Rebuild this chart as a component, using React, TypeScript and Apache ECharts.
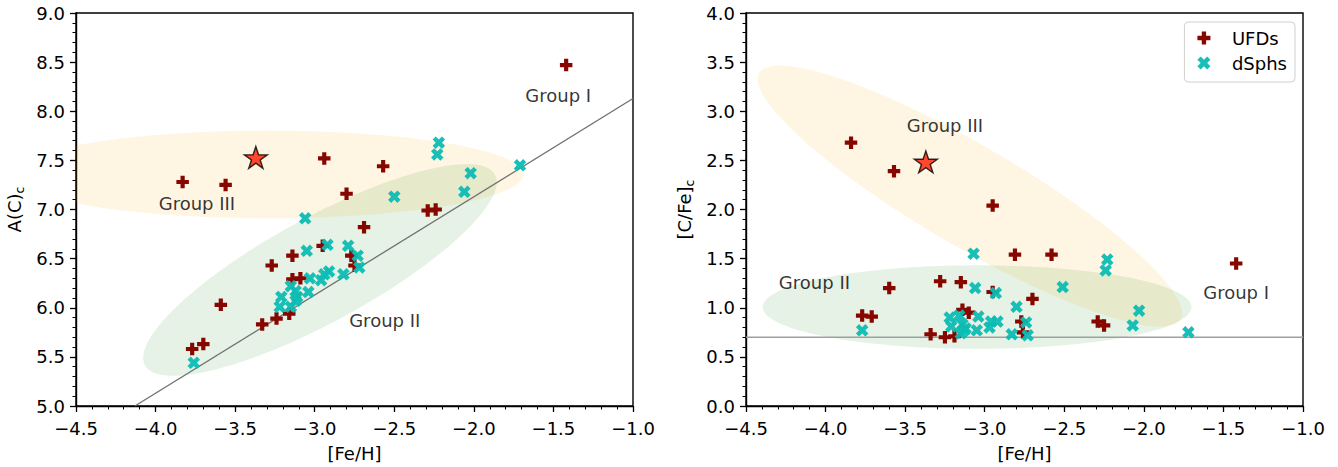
import React, { useEffect, useRef } from "react";
import * as echarts from "echarts";

// ---------- Data ----------
// Left panel: A(C)_c vs [Fe/H]
const ufdFeHLeft = [-3.83, -3.56, -2.94, -2.80, -2.57, -2.29, -2.24, -2.69, -2.95, -2.77, -3.14, -3.27, -2.75, -3.14, -3.09, -3.59, -3.16, -3.24, -3.33, -3.77, -3.70, -1.42];
const ufdAC = [7.28, 7.25, 7.52, 7.16, 7.44, 6.99, 7.00, 6.82, 6.63, 6.53, 6.53, 6.43, 6.43, 6.29, 6.30, 6.03, 5.94, 5.89, 5.83, 5.58, 5.63, 8.47];
const dsphFeHLeft = [-2.22, -2.23, -1.71, -2.02, -2.06, -2.50, -3.06, -3.05, -2.92, -2.79, -3.76, -2.73, -2.72, -2.82, -2.91, -2.94, -2.96, -3.03, -3.04, -3.12, -3.15, -3.21, -3.11, -3.22, -3.15, -3.12];
const dsphAC = [7.68, 7.56, 7.45, 7.37, 7.18, 7.13, 6.91, 6.58, 6.64, 6.63, 5.44, 6.53, 6.41, 6.34, 6.37, 6.34, 6.28, 6.30, 6.16, 6.17, 6.22, 6.11, 6.11, 6.01, 6.01, 6.07];

// Right panel: [C/Fe]_c vs [Fe/H]
const ufdFeHRight = [-3.84, -3.57, -2.95, -2.81, -2.58, -2.29, -2.25, -2.70, -2.95, -2.77, -3.15, -3.28, -2.76, -3.14, -3.10, -3.60, -3.19, -3.25, -3.34, -3.77, -3.71, -1.42];
const ufdCFe = [2.68, 2.39, 2.04, 1.54, 1.54, 0.86, 0.82, 1.09, 1.16, 0.86, 1.26, 1.27, 0.75, 0.98, 0.95, 1.20, 0.71, 0.70, 0.73, 0.92, 0.91, 1.45];
const dsphFeHRight = [-2.23, -2.24, -1.72, -2.03, -2.07, -2.51, -3.07, -3.06, -2.93, -2.80, -3.77, -2.74, -2.73, -2.83, -2.92, -2.96, -2.97, -3.04, -3.05, -3.14, -3.16, -3.22, -3.12, -3.21, -3.15, -3.13];
const dsphCFe = [1.49, 1.38, 0.75, 0.97, 0.82, 1.21, 1.55, 1.20, 1.15, 1.01, 0.77, 0.85, 0.72, 0.73, 0.86, 0.86, 0.80, 0.91, 0.77, 0.83, 0.92, 0.90, 0.79, 0.81, 0.74, 0.77];

const starFeH = -3.37;
const starAC = 7.52;
const starCFe = 2.475;

// Reference lines ([C/Fe] = 0.7)
const lineLeftFeH = [-4.13, -1.0];
const lineLeftAC = [5.0, 8.13];
const lineRightFeH = [-4.5, -1.0];
const lineRightCFe = [0.7, 0.7];

// Group annotations
const groupNames = ["Group I", "Group II", "Group III"];
const groupLeftFeH = [-1.47, -2.56, -3.74];
const groupLeftAC = [8.16, 5.87, 7.06];
const groupRightFeH = [-1.42, -4.07, -3.25];
const groupRightCFe = [1.16, 1.26, 2.855];

// Group ellipses (data units): centre, major vector, minor vector
const ORANGE = "rgba(255,165,0,0.11)";
const GREEN = "rgba(0,128,0,0.10)";
const ellipsesLeft = [
  { cx: -2.967, cy: 6.385, ux: 1.099, uy: 0.972, vx: 0.161, vy: -0.465, fill: GREEN },
  { cx: -3.294, cy: 7.357, ux: 1.608, uy: 0.0, vx: 0.0, vy: 0.446, fill: ORANGE },
];
const ellipsesRight = [
  { cx: -3.048, cy: 1.007, ux: 1.347, uy: 0.0, vx: 0.0, vy: 0.425, fill: GREEN },
  { cx: -3.093, cy: 2.136, ux: 1.323, uy: -1.254, vx: 0.164, vy: 0.44, fill: ORANGE },
];

// ---------- Styles ----------
const FONT = "DejaVu Sans";
const FS = 18;
const UFD_COLOR = "#860600";
const DSPH_COLOR = "#0cbcb4";
const PLUS = "path://M33.33,0H66.67V33.33H100V66.67H66.67V100H33.33V66.67H0V33.33H33.33Z";
const XMARK = "path://M25,0L50,25L75,0L100,25L75,50L100,75L75,100L50,75L25,100L0,75L25,50L0,25Z";
const STAR = (() => {
  const pts: string[] = [];
  for (let i = 0; i < 10; i++) {
    const r = i % 2 === 0 ? 50 : 19.1;
    const a = -Math.PI / 2 + (i * Math.PI) / 5;
    pts.push(`${(50 + r * Math.cos(a)).toFixed(2)},${(50 + r * Math.sin(a)).toFixed(2)}`);
  }
  return "path://M" + pts.join("L") + "Z";
})();

const zip = (xs: number[], ys: number[]) => xs.map((x, i) => [x, ys[i]]);

function ellipseSeries(ells: any[], idx: number) {
  return {
    type: "custom",
    xAxisIndex: idx,
    yAxisIndex: idx,
    silent: true,
    z: 1,
    data: ells.map((e) => [e.cx, e.cy]),
    renderItem: (params: any, api: any) => {
      const e = ells[params.dataIndex];
      const cs = params.coordSys;
      const pts: number[][] = [];
      const N = 180;
      for (let k = 0; k < N; k++) {
        const t = (2 * Math.PI * k) / N;
        const p = api.coord([
          e.cx + e.ux * Math.cos(t) + e.vx * Math.sin(t),
          e.cy + e.uy * Math.cos(t) + e.vy * Math.sin(t),
        ]);
        p[0] = Math.min(Math.max(p[0], cs.x), cs.x + cs.width);
        p[1] = Math.min(Math.max(p[1], cs.y), cs.y + cs.height);
        pts.push(p);
      }
      return { type: "polygon", shape: { points: pts }, style: { fill: e.fill } };
    },
  };
}

function labelSeries(xs: number[], ys: number[], idx: number) {
  return {
    type: "scatter",
    xAxisIndex: idx,
    yAxisIndex: idx,
    silent: true,
    symbolSize: 1,
    itemStyle: { color: "transparent" },
    z: 3,
    data: xs.map((x, i) => ({ name: groupNames[i], value: [x, ys[i]] })),
    label: {
      show: true,
      position: "inside",
      formatter: (p: any) => p.name,
      color: "#000",
      fontSize: FS,
      fontFamily: FONT,
    },
  };
}

function xAxisCfg(idx: number) {
  return {
    type: "value",
    gridIndex: idx,
    min: -4.5,
    max: -1.0,
    interval: 0.5,
    name: "[Fe/H]",
    nameLocation: "middle",
    nameGap: 38,
    nameTextStyle: { color: "#000", fontSize: FS, fontFamily: FONT },
    axisLine: { show: true, onZero: false, lineStyle: { color: "#000", width: 1.4 } },
    axisTick: { show: true, inside: false, length: 6, lineStyle: { color: "#000", width: 1.3 } },
    minorTick: { show: true, splitNumber: 5, length: 3.5, lineStyle: { color: "#000", width: 1 } },
    splitLine: { show: false },
    minorSplitLine: { show: false },
    axisLabel: {
      color: "#000",
      fontSize: FS,
      fontFamily: FONT,
      margin: 13,
      formatter: (v: number) => v.toFixed(1).replace("-", "\u2212"),
    },
  };
}

function yAxisCfg(idx: number, min: number, max: number, main: string) {
  return {
    type: "value",
    gridIndex: idx,
    min,
    max,
    interval: 0.5,
    name: `{m|${main}}{s|c}`,
    nameLocation: "middle",
    nameGap: 50,
    nameTextStyle: {
      color: "#000",
      fontSize: FS,
      fontFamily: FONT,
      rich: {
        m: { fontSize: FS, fontFamily: FONT, color: "#000", lineHeight: 24 },
        s: { fontSize: 12.5, fontFamily: FONT, color: "#000", lineHeight: 24, verticalAlign: "bottom", padding: [7, 0, 0, 0] },
      },
    },
    axisLine: { show: true, onZero: false, lineStyle: { color: "#000", width: 1.4 } },
    axisTick: { show: true, inside: false, length: 6, lineStyle: { color: "#000", width: 1.3 } },
    minorTick: { show: true, splitNumber: 5, length: 3.5, lineStyle: { color: "#000", width: 1 } },
    splitLine: { show: false },
    minorSplitLine: { show: false },
    axisLabel: {
      color: "#000",
      fontSize: FS,
      fontFamily: FONT,
      margin: 11,
      formatter: (v: number) => v.toFixed(1),
    },
  };
}

export default function App() {
  const ref = useRef<HTMLDivElement>(null);

  useEffect(() => {
    document.body.style.margin = "0";
    if (!ref.current) return;
    const chart = echarts.init(ref.current, undefined, { renderer: "svg" });

    const gridCommon = {
      top: 13,
      height: 399,
      width: 557,
      show: true,
      borderColor: "#000",
      borderWidth: 1.4,
      backgroundColor: "transparent",
      containLabel: false,
    };

    chart.setOption({
      animation: false,
      backgroundColor: "#fff",
      textStyle: { fontFamily: FONT },
      grid: [
        { ...gridCommon, left: 76 },
        { ...gridCommon, left: 746 },
      ],
      xAxis: [xAxisCfg(0), xAxisCfg(1)],
      yAxis: [yAxisCfg(0, 5, 9, "A(C)"), yAxisCfg(1, 0, 4, "[C/Fe]")],
      legend: {
        data: ["UFDs", "dSphs"],
        orient: "vertical",
        right: 43,
        top: 22,
        padding: [6, 8, 9, 13],
        itemWidth: 24,
        itemHeight: 13,
        itemGap: 5,
        borderColor: "#d0d0d0",
        borderWidth: 1,
        borderRadius: 4,
        backgroundColor: "#fff",
        textStyle: { color: "#000", fontSize: FS, fontFamily: FONT, lineHeight: 20, padding: [0, 0, 0, 11] },
      },
      series: [
        ellipseSeries(ellipsesLeft, 0),
        ellipseSeries(ellipsesRight, 1),
        {
          type: "line",
          xAxisIndex: 0,
          yAxisIndex: 0,
          silent: true,
          symbol: "none",
          z: 2,
          data: zip(lineLeftFeH, lineLeftAC),
          lineStyle: { color: "#707070", width: 1.3 },
        },
        {
          type: "line",
          xAxisIndex: 1,
          yAxisIndex: 1,
          silent: true,
          symbol: "none",
          z: 2,
          data: zip(lineRightFeH, lineRightCFe),
          lineStyle: { color: "#a0a0a0", width: 1.5 },
        },
        {
          name: "UFDs",
          type: "scatter",
          xAxisIndex: 0,
          yAxisIndex: 0,
          symbol: PLUS,
          symbolSize: 12.5,
          z: 4,
          itemStyle: { color: UFD_COLOR, opacity: 1 },
          data: zip(ufdFeHLeft, ufdAC),
        },
        {
          name: "UFDs",
          type: "scatter",
          xAxisIndex: 1,
          yAxisIndex: 1,
          symbol: PLUS,
          symbolSize: 12.5,
          z: 4,
          itemStyle: { color: UFD_COLOR, opacity: 1 },
          data: zip(ufdFeHRight, ufdCFe),
        },
        {
          name: "dSphs",
          type: "scatter",
          xAxisIndex: 0,
          yAxisIndex: 0,
          symbol: XMARK,
          symbolSize: 12.5,
          z: 5,
          itemStyle: { color: DSPH_COLOR, opacity: 0.95 },
          data: zip(dsphFeHLeft, dsphAC),
        },
        {
          name: "dSphs",
          type: "scatter",
          xAxisIndex: 1,
          yAxisIndex: 1,
          symbol: XMARK,
          symbolSize: 12.5,
          z: 5,
          itemStyle: { color: DSPH_COLOR, opacity: 0.95 },
          data: zip(dsphFeHRight, dsphCFe),
        },
        {
          type: "scatter",
          xAxisIndex: 0,
          yAxisIndex: 0,
          symbol: STAR,
          symbolKeepAspect: true,
          symbolSize: 23,
          symbolOffset: [0, -1],
          z: 6,
          itemStyle: { color: "#ff1a00", borderColor: "#000", borderWidth: 1.4 },
          data: [[starFeH, starAC]],
        },
        {
          type: "scatter",
          xAxisIndex: 1,
          yAxisIndex: 1,
          symbol: STAR,
          symbolKeepAspect: true,
          symbolSize: 23,
          symbolOffset: [0, -1],
          z: 6,
          itemStyle: { color: "#ff1a00", borderColor: "#000", borderWidth: 1.4 },
          data: [[starFeH, starCFe]],
        },
        labelSeries(groupLeftFeH, groupLeftAC, 0),
        labelSeries(groupRightFeH, groupRightCFe, 1),
      ],
    });

    return () => chart.dispose();
  }, []);

  return <div ref={ref} style={{ width: 1338, height: 467 }} />;
}
